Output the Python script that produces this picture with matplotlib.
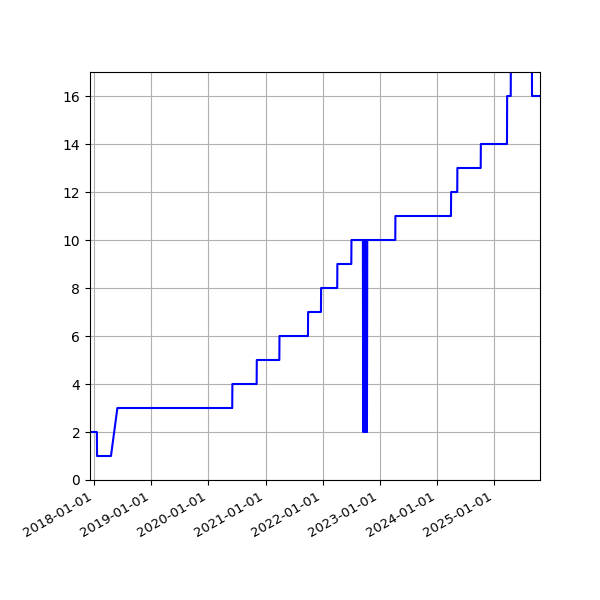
import matplotlib
matplotlib.use('Agg')
import matplotlib.pyplot as plt
import matplotlib.dates as mdates
import numpy as np

# Line points (date, value)
dates = ['2017-12-06', '2018-01-19', '2018-01-20', '2018-04-19', '2018-05-30',
         '2020-06-02', '2020-06-03', '2020-11-05', '2020-11-06',
         '2021-03-30', '2021-03-31', '2021-09-29', '2021-09-30',
         '2021-12-21', '2021-12-22', '2022-04-04', '2022-04-05',
         '2022-07-03', '2022-07-04',
         # rapid switching between 10 and 2
         '2022-09-15', '2022-09-17', '2022-09-19', '2022-09-21', '2022-09-23',
         '2022-09-25', '2022-09-27', '2022-09-29', '2022-10-01', '2022-10-03',
         '2022-10-05', '2022-10-07', '2022-10-09', '2022-10-11', '2022-10-13',
         '2023-04-10', '2023-04-11', '2024-03-31', '2024-04-01',
         '2024-05-10', '2024-05-11', '2024-10-07', '2024-10-08',
         '2025-03-24', '2025-03-25', '2025-04-17', '2025-04-18',
         '2025-08-30', '2025-08-31', '2025-10-21']
values = [2, 2, 1, 1, 3,
          3, 4, 4, 5,
          5, 6, 6, 7,
          7, 8, 8, 9,
          9, 10,
          10, 2, 10, 2, 10,
          2, 10, 2, 10, 2,
          10, 2, 10, 2, 10,
          10, 11, 11, 12,
          12, 13, 13, 14,
          14, 16, 16, 18,
          18, 16, 16]

x = np.array(dates, dtype='datetime64[D]')

fig, ax = plt.subplots(figsize=(6, 6), dpi=100)
ax.plot(x, values, color='blue', linewidth=1.5)

ax.set_xlim(x[0], x[-1])
ax.set_ylim(0, 17)
ax.set_yticks(np.arange(0, 17, 2))
ax.xaxis.set_major_locator(mdates.YearLocator())
ax.xaxis.set_major_formatter(mdates.DateFormatter('%Y-%m-%d'))
ax.tick_params(axis='x', labelsize=9.5)
ax.grid(True)
fig.autofmt_xdate()
fig.subplots_adjust(left=0.15, right=0.9, top=0.88, bottom=0.2)

plt.savefig('out.png')
